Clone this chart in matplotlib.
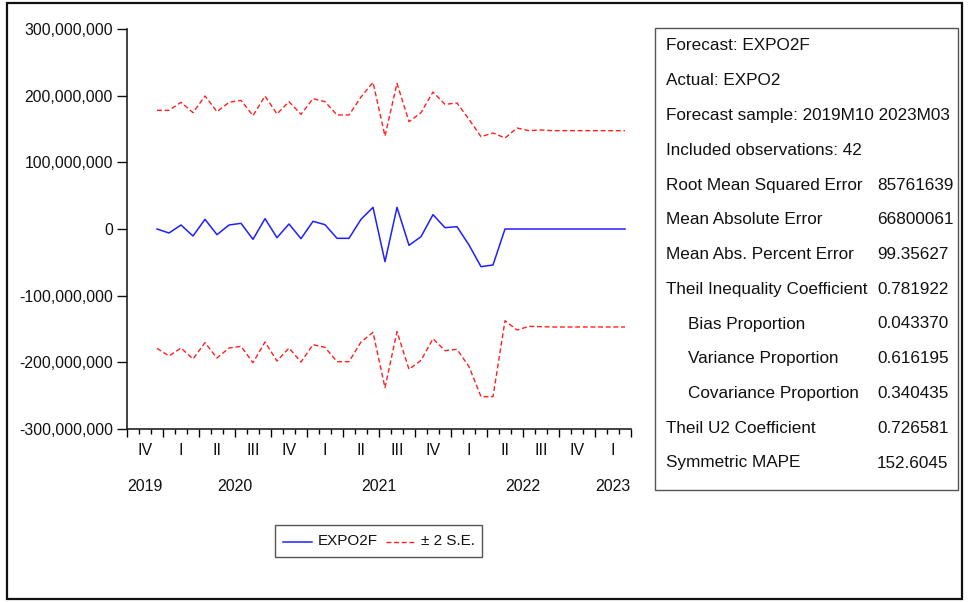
import numpy as np
import matplotlib
matplotlib.use("Agg")
import matplotlib.pyplot as plt
from matplotlib.lines import Line2D
from matplotlib.patches import Rectangle

plt.rcParams['font.family'] = ['Liberation Sans', 'DejaVu Sans']

# monthly axis runs 2019M10 .. 2023M03 (42 months), forecast shown from 2019M12
n_months = 42
first_obs = 2
# forecast of EXPO2 and the +/- 2 S.E. band, millions
expo2f = [0, -6, 6, -10.5, 14.5, -8.5, 6, 8.5, -15.5, 15.5,
          -13, 7.5, -14.5, 11.5, 6.5, -14, -14, 14.5, 32.5, -49,
          32.5, -24.5, -11.5, 21.5, 2, 3.5, -24, -56.5, -54, 0,
          0, 0, 0, 0, 0, 0, 0, 0, 0, 0]
upper = [178, 178, 190, 174.5, 199.5, 176, 190, 193, 170, 199.5,
         172.5, 191, 172, 195.5, 191, 171, 171, 198, 220, 139.5,
         218.5, 161, 174.5, 205.5, 187, 189, 164.5, 138.5, 144, 136.5,
         151.5, 147.5, 148.5, 147.5, 147.5, 147.5, 147.5, 147.5, 147.5, 147.5]
lower = [-179, -190.5, -178.5, -195, -170.5, -193.5, -178.5, -176, -200.5, -169.5,
         -198, -178.5, -199.5, -173.5, -177.5, -199, -199, -169.5, -155, -238,
         -154, -210.5, -197, -164.5, -182.5, -180.5, -206.5, -251.5, -251.5, -137.5,
         -151.5, -146, -146.5, -147, -147, -147, -147, -147, -147, -147]

quarter_labels = ['IV', 'I', 'II', 'III', 'IV', 'I', 'II', 'III', 'IV',
                  'I', 'II', 'III', 'IV', 'I']
years = ['2019', '2020', '2021', '2022', '2023']
months_in_year = [3, 12, 12, 12, 3]

stats_names = ['Forecast: EXPO2F', 'Actual: EXPO2',
               'Forecast sample: 2019M10 2023M03', 'Included observations: 42',
               'Root Mean Squared Error', 'Mean Absolute Error',
               'Mean Abs. Percent Error', 'Theil Inequality Coefficient',
               'Bias Proportion', 'Variance Proportion',
               'Covariance Proportion', 'Theil U2 Coefficient',
               'Symmetric MAPE']
stats_indent = [0, 0, 0, 0, 0, 0, 0, 0, 1, 1, 1, 0, 0]
stats_values = ['', '', '', '', '85761639', '66800061', '99.35627', '0.781922',
                '0.043370', '0.616195', '0.340435', '0.726581', '152.6045']

W, H = 969, 602
fig = plt.figure(figsize=(W / 100, H / 100), dpi=100)


def fx(px):
    return px / W


def fy(py):
    return 1 - py / H


ax = fig.add_axes([fx(127), fy(429), fx(631) - fx(127), fy(29) - fy(429)])

x = np.arange(first_obs, n_months) + 0.5
scale = 1e6
ax.plot(x, np.array(expo2f) * scale, color='#1f1fff', lw=1.1)
ax.plot(x, np.array(upper) * scale, color='#ff1f1f', lw=1.0, ls=(0, (3.5, 2)))
ax.plot(x, np.array(lower) * scale, color='#ff1f1f', lw=1.0, ls=(0, (3.5, 2)))

ax.set_xlim(0, n_months)
ax.set_ylim(-3e8, 3e8)
ax.set_yticks(np.arange(-3e8, 3.01e8, 1e8))
ax.yaxis.set_major_formatter(matplotlib.ticker.FuncFormatter(lambda v, p: f'{v:,.0f}'))
ax.tick_params(axis='y', direction='out', length=7, width=1, pad=3,
               labelsize=11.3, colors='#111111')

ax.set_xticks(np.arange(0, n_months + 1, 3))
ax.set_xticks(np.arange(0, n_months + 1, 1), minor=True)
ax.tick_params(axis='x', which='major', direction='out', length=6, width=1,
               labelbottom=False)
ax.tick_params(axis='x', which='minor', direction='out', length=3.5, width=1)

for side in ['top', 'right']:
    ax.spines[side].set_visible(False)
for side in ['left', 'bottom']:
    ax.spines[side].set_linewidth(1.2)
    ax.spines[side].set_color('#222222')

trans = ax.get_xaxis_transform()
for i, q in enumerate(quarter_labels):
    ax.text(3 * i + 1.5, -0.053, q, transform=trans, ha='center', va='center',
            fontsize=11.5, color='#111111')
start = 0
for yr, m in zip(years, months_in_year):
    ax.text(start + m / 2, -0.143, yr, transform=trans, ha='center',
            va='center', fontsize=11.5, color='#111111')
    start += m

# statistics box
fig.add_artist(Rectangle((fx(655), fy(490)), fx(958) - fx(655), fy(28) - fy(490),
                         transform=fig.transFigure, fill=False,
                         edgecolor='#555555', lw=1.0))
for i, (name, val) in enumerate(zip(stats_names, stats_values)):
    yy = fy(46 + i * 34.75)
    fig.text(fx(666 + 22 * stats_indent[i]), yy, name, ha='left', va='center',
             fontsize=12.3, color='#111111')
    if val:
        fig.text(fx(877), yy, val, ha='left', va='center', fontsize=12.3,
                 color='#111111')

# legend box
fig.add_artist(Rectangle((fx(275), fy(557)), fx(482) - fx(275), fy(525) - fy(557),
                         transform=fig.transFigure, fill=False,
                         edgecolor='#555555', lw=1.0))
fig.add_artist(Line2D([fx(283), fx(312)], [fy(542), fy(542)], color='#1f1fff',
                      lw=1.1, transform=fig.transFigure))
fig.text(fx(318), fy(541), 'EXPO2F', ha='left', va='center', fontsize=11,
         color='#111111')
fig.add_artist(Line2D([fx(386), fx(415)], [fy(542), fy(542)], color='#ff1f1f',
                      lw=1.0, ls=(0, (3.5, 2)), transform=fig.transFigure))
fig.text(fx(421), fy(541), '\u00b1 2 S.E.', ha='left', va='center', fontsize=11,
         color='#111111')

# outer frame
fig.add_artist(Rectangle((fx(7), fy(599)), fx(962) - fx(7), fy(3) - fy(599),
                         transform=fig.transFigure, fill=False,
                         edgecolor='#111111', lw=1.6))

fig.savefig('out.png', dpi=100)
